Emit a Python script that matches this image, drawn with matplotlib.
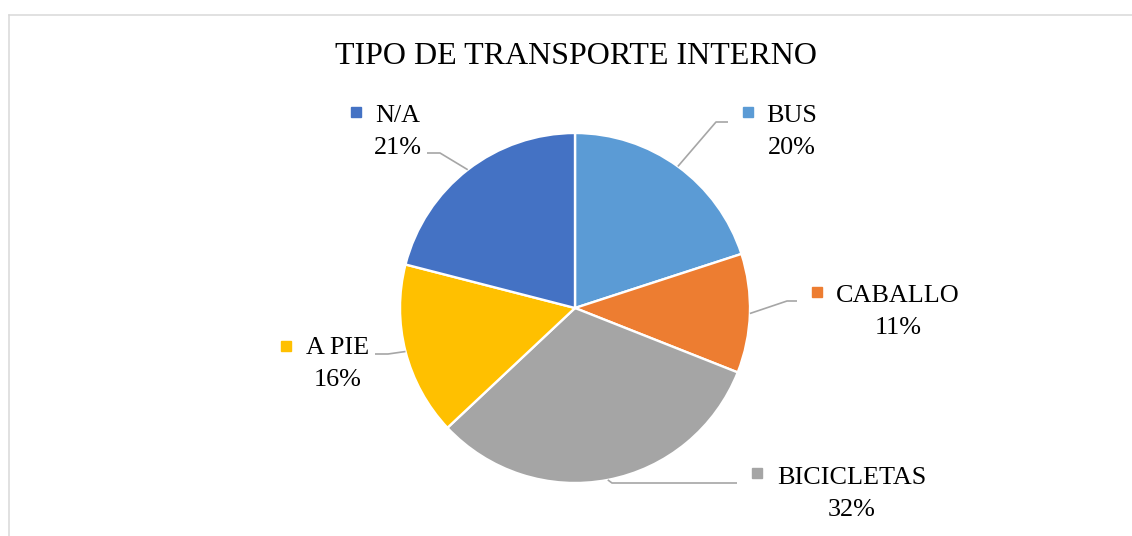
import numpy as np
import matplotlib
matplotlib.use("Agg")
import matplotlib.pyplot as plt
from matplotlib.lines import Line2D

# ---- data ----
title = "TIPO DE TRANSPORTE INTERNO"
categories = ["BUS", "CABALLO", "BICICLETAS", "A PIE", "N/A"]
values = [20, 11, 32, 16, 21]
colors = ["#5B9BD5", "#ED7D31", "#A5A5A5", "#FFC000", "#4472C4"]

# ---- layout (pixel geometry of reference) ----
W, H = 1132, 536
CX, CY, R = 575, 308, 175

def P(px, py):
    return ((px - CX) / R, (CY - py) / R)

# label layout: text centre x, first-line centre y, marker centre, leader elbow, leader end
label_layout = {
    "BUS":        dict(tx=792, ty=113, mk=(748, 112), elbow=(716, 122), end=(728, 122)),
    "CABALLO":    dict(tx=898, ty=293, mk=(817, 292), elbow=(787, 301), end=(797, 301)),
    "BICICLETAS": dict(tx=852, ty=476, mk=(757, 473), elbow=(612, 483), end=(737, 483)),
    "A PIE":      dict(tx=338, ty=346, mk=(286, 346), elbow=(388, 354), end=(375, 354)),
    "N/A":        dict(tx=398, ty=113, mk=(356, 112), elbow=(440, 153), end=(427, 153)),
}
LINE_GAP = 32
FS = 18.8
FONT = "Liberation Serif"

fig = plt.figure(figsize=(W / 100, H / 100), dpi=100)
ax = fig.add_axes([0, 0, 1, 1])

wedges, _ = ax.pie(values, colors=colors, startangle=90, counterclock=False,
                   radius=1, center=(0, 0), frame=True,
                   wedgeprops=dict(edgecolor="white", linewidth=1.7))
ax.set_xlim(-CX / R, (W - CX) / R)
ax.set_ylim((CY - H) / R, CY / R)
ax.set_aspect("auto")
ax.axis("off")

total = sum(values)
cum = 0
for cat, v, c in zip(categories, values, colors):
    mid = (cum + v / 2) / total * 360
    cum += v
    ang = np.deg2rad(90 - mid)
    sx, sy = np.cos(ang), np.sin(ang)
    L = label_layout[cat]
    ex, ey = P(*L["elbow"])
    nx, ny = P(*L["end"])
    ax.plot([sx, ex, nx], [sy, ey, ny], color="#A6A6A6", lw=1.2, zorder=1,
            solid_capstyle="butt")
    mx, my = P(*L["mk"])
    ax.plot([mx], [my], marker="s", markersize=6.5, color=c, mec=c, ls="none")
    tx, ty1 = P(L["tx"], L["ty"] + 8.5)
    _, ty2 = P(L["tx"], L["ty"] + LINE_GAP + 8.5)
    pct = f"{round(v / total * 100)}%"
    ax.text(tx, ty1, cat, ha="center", va="baseline", fontsize=FS,
            family=FONT, color="#000000")
    ax.text(tx, ty2, pct, ha="center", va="baseline", fontsize=FS,
            family=FONT, color="#000000")

# title
tx, ty = P(576, 53 + 11)
ax.text(tx, ty, title, ha="center", va="baseline", fontsize=23,
        family=FONT, color="#000000")

# chart-area border (left and top visible)
fig.add_artist(Line2D([8.5 / W, 8.5 / W], [0, 1 - 14.5 / H],
                      transform=fig.transFigure, color="#D9D9D9", lw=1.1))
fig.add_artist(Line2D([8.5 / W, 1], [1 - 14.5 / H, 1 - 14.5 / H],
                      transform=fig.transFigure, color="#D9D9D9", lw=1.1))

fig.savefig("out.png", dpi=100, facecolor="white")
